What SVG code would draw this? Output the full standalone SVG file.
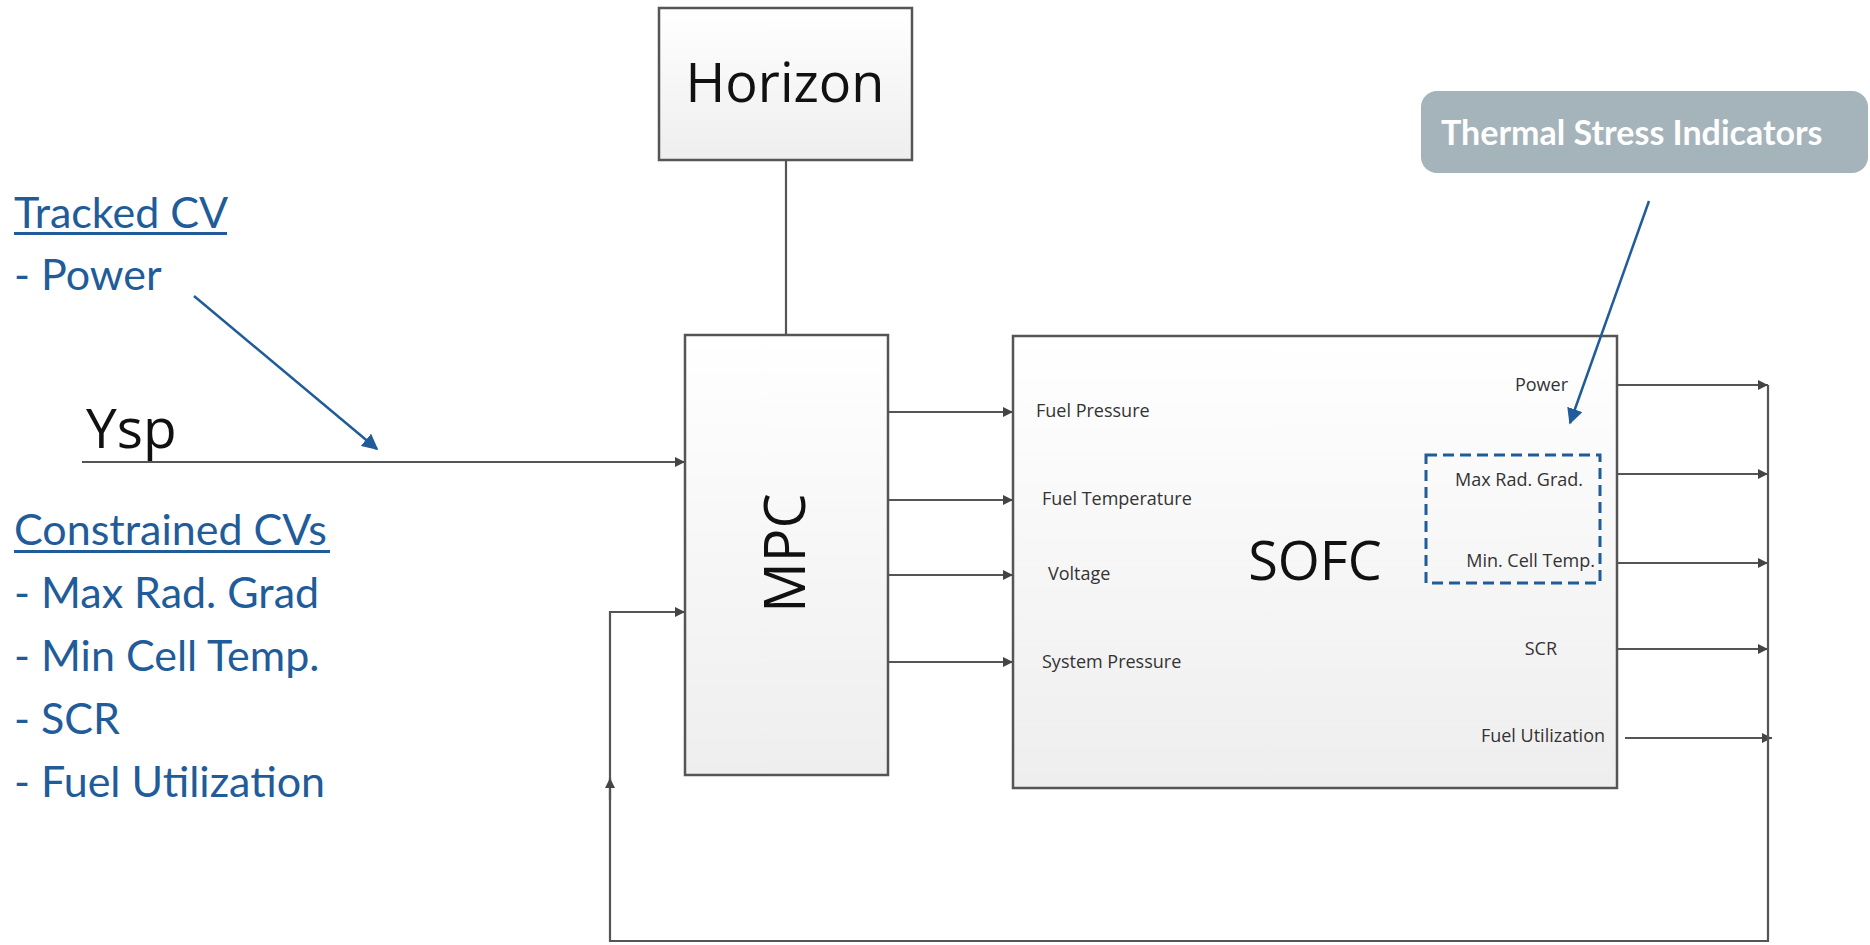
<svg xmlns="http://www.w3.org/2000/svg" width="1870" height="945" viewBox="0 0 1870 945">
<defs>
<linearGradient id="boxg" x1="0" y1="0" x2="0" y2="1">
<stop offset="0" stop-color="#ffffff"/>
<stop offset="1" stop-color="#eeeeee"/>
</linearGradient>
<marker id="ah" viewBox="0 0 10 10" refX="10" refY="5" markerWidth="10" markerHeight="10" markerUnits="userSpaceOnUse" orient="auto">
<path d="M0,0 L10,5 L0,10 Z" fill="#444"/>
</marker>
<marker id="ahb" viewBox="0 0 10 10" refX="9" refY="5" markerWidth="16" markerHeight="16" markerUnits="userSpaceOnUse" orient="auto">
<path d="M0,0 L10,5 L0,10 Z" fill="#1F5C99"/>
</marker>
<style>
.box{fill:url(#boxg);stroke:#555;stroke-width:2.5}
.big{font-family:"Open Sans","Noto Sans",sans-serif;fill:#111}
.lab{font-family:"Open Sans","Noto Sans",sans-serif;font-size:18px;fill:#333}
.side{font-family:Lato,"Open Sans",sans-serif;font-size:43px;fill:#1F5C99}
.con{fill:none;stroke:#555;stroke-width:2.2}
.blue{fill:none;stroke:#1F5C99;stroke-width:2.5}
</style>
</defs>

<g id="horizon">
<rect class="box" x="659" y="8" width="253" height="152"/>
<text class="big" x="785" y="102" font-size="54" text-anchor="middle">Horizon</text>
</g>

<g id="mpc">
<rect class="box" x="685" y="335" width="203" height="440"/>
<text class="big" x="0" y="0" font-size="56" text-anchor="middle" transform="translate(805,553) rotate(-90)">MPC</text>
</g>

<g id="sofc">
<rect class="box" x="1013" y="336" width="604" height="452"/>
<text class="big" x="1315" y="580" font-size="54" text-anchor="middle">SOFC</text>
<text class="lab" x="1036" y="417">Fuel Pressure</text>
<text class="lab" x="1042" y="505">Fuel Temperature</text>
<text class="lab" x="1048" y="580">Voltage</text>
<text class="lab" x="1042" y="668">System Pressure</text>
<text class="lab" x="1568" y="391" text-anchor="end">Power</text>
<text class="lab" x="1583" y="486" text-anchor="end">Max Rad. Grad.</text>
<text class="lab" x="1595" y="567" text-anchor="end">Min. Cell Temp.</text>
<text class="lab" x="1557" y="655" text-anchor="end">SCR</text>
<text class="lab" x="1605" y="742" text-anchor="end">Fuel Utilization</text>
</g>

<g id="thermal-stress">
<rect x="1421" y="91" width="447" height="82" rx="16" fill="#A5B3BA"/>
<text x="1441" y="145" font-family="Lato,'Open Sans',sans-serif" font-weight="bold" font-size="34" fill="#ffffff">Thermal Stress Indicators</text>
<rect x="1426" y="455" width="174" height="128" fill="none" stroke="#1F5C99" stroke-width="3" stroke-dasharray="11,6"/>
</g>

<g id="tracked-cv">
<text class="side" x="14" y="228">Tracked CV</text>
<rect x="14" y="232" width="213" height="3" fill="#1F5C99"/>
<text class="side" x="14" y="290">- Power</text>
</g>

<g id="constrained-cvs">
<text class="side" x="14" y="545">Constrained CVs</text>
<rect x="14" y="550" width="316" height="3" fill="#1F5C99"/>
<text class="side" x="14" y="608">- Max Rad. Grad</text>
<text class="side" x="14" y="671">- Min Cell Temp.</text>
<text class="side" x="14" y="734">- SCR</text>
<text class="side" x="14" y="797">- Fuel Utilization</text>
</g>

<g id="ysp">
<text class="big" x="86" y="448" font-size="55">Ysp</text>
</g>

<g id="connectors">
<line class="con" x1="786" y1="160" x2="786" y2="335"/>
<line class="con" x1="82" y1="462" x2="685" y2="462" marker-end="url(#ah)"/>
<line class="con" x1="888" y1="412" x2="1013" y2="412" marker-end="url(#ah)"/>
<line class="con" x1="888" y1="500" x2="1013" y2="500" marker-end="url(#ah)"/>
<line class="con" x1="888" y1="575" x2="1013" y2="575" marker-end="url(#ah)"/>
<line class="con" x1="888" y1="662" x2="1013" y2="662" marker-end="url(#ah)"/>
<line class="con" x1="1617" y1="385" x2="1768" y2="385" marker-end="url(#ah)"/>
<line class="con" x1="1617" y1="474" x2="1768" y2="474" marker-end="url(#ah)"/>
<line class="con" x1="1617" y1="563" x2="1768" y2="563" marker-end="url(#ah)"/>
<line class="con" x1="1617" y1="649" x2="1768" y2="649" marker-end="url(#ah)"/>
<line class="con" x1="1625" y1="738" x2="1772" y2="738" marker-end="url(#ah)"/>
<path class="con" d="M1768,385 V941 H610 V612 H685" marker-end="url(#ah)"/>
<line class="con" x1="610" y1="800" x2="610" y2="778" marker-end="url(#ah)"/>
<line class="blue" x1="194" y1="296" x2="377" y2="449" marker-end="url(#ahb)"/>
<line class="blue" x1="1649" y1="201" x2="1570" y2="423" marker-end="url(#ahb)"/>
</g>
</svg>
